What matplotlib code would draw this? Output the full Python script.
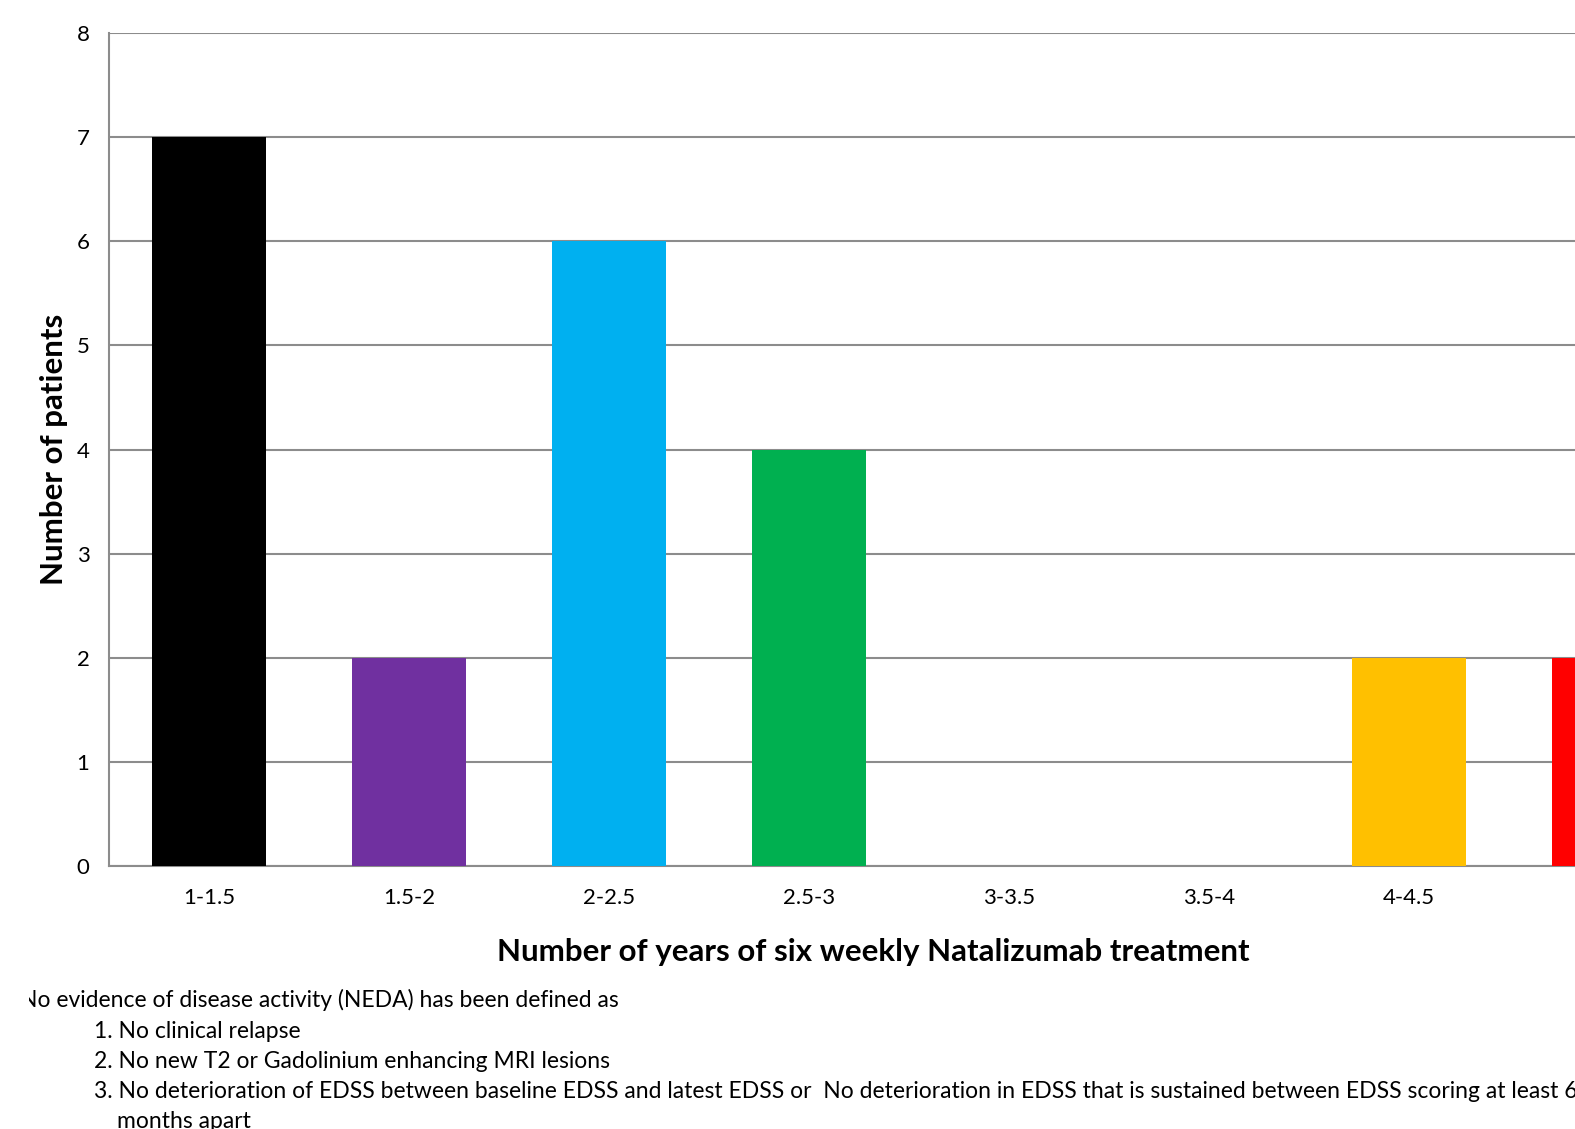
import matplotlib
matplotlib.use("Agg")
import matplotlib.pyplot as plt
from matplotlib.transforms import Bbox

categories = ["1-1.5", "1.5-2", "2-2.5", "2.5-3", "3-3.5", "3.5-4", "4-4.5", "4.5-5"]
patients = [7, 2, 6, 4, 0, 0, 2, 2]
bar_colors = ["#000000", "#7030A0", "#00B0F0", "#00B050", "#FFFFFF", "#FFFFFF", "#FFC000", "#FF0000"]
y_ticks = [0, 1, 2, 3, 4, 5, 6, 7, 8]

footnote_intro = "No evidence of disease activity (NEDA) has been defined as"
footnote_items = [
    "1. No clinical relapse",
    "2. No new T2 or Gadolinium enhancing MRI lesions",
    "3. No deterioration of EDSS between baseline EDSS and latest EDSS or  No deterioration in EDSS that is sustained between EDSS scoring at least 6",
]
footnote_tail = "months apart"

plt.rcParams["font.family"] = ["Lato", "DejaVu Sans"]

W, H = 1575, 1129
fig = plt.figure(figsize=(W / 100, H / 100), dpi=100)
fig.patch.set_facecolor("white")

# axes run past the right edge of the canvas
ax = fig.add_axes([109 / W, (H - 866) / H, 1600 / W, 833 / H])
x = list(range(len(categories)))
ax.bar(x, patients, width=0.57, color=bar_colors, zorder=3)
ax.set_xlim(-0.5, len(categories) - 0.5)
ax.set_ylim(0, 8)
ax.set_yticks(y_ticks)
ax.set_xticks(x)
ax.set_xticklabels(categories)
ax.yaxis.grid(True, color="#8c8c8c", linewidth=1.5, zorder=0)
ax.set_axisbelow(True)
for side in ["top", "right"]:
    ax.spines[side].set_visible(False)
for side in ["left", "bottom"]:
    ax.spines[side].set_color("#8c8c8c")
    ax.spines[side].set_linewidth(1.5)
ax.tick_params(axis="both", length=0, labelsize=16, colors="black")
ax.tick_params(axis="y", pad=14)
ax.tick_params(axis="x", pad=16)

ax.set_ylabel("Number of patients", fontsize=22.5, fontweight="bold", labelpad=6)
fig.text(873 / W, 1 - 952 / H, "Number of years of six weekly Natalizumab treatment",
         fontsize=22.5, fontweight="bold", ha="center", va="center")

# footnote block, left margin trimmed
clip = Bbox.from_extents(29, 0, W, H)
t = fig.text(20 / W, 1 - 1000 / H, footnote_intro, fontsize=16.5, ha="left", va="center")
t.set_clip_box(clip)
t.set_clip_on(True)
for i, item in enumerate(footnote_items):
    fig.text(94 / W, 1 - (1031 + 30 * i) / H, item, fontsize=16.5, ha="left", va="center")
fig.text(117 / W, 1 - 1121 / H, footnote_tail, fontsize=16.5, ha="left", va="center")

fig.savefig("out.png", dpi=100, facecolor="white")
